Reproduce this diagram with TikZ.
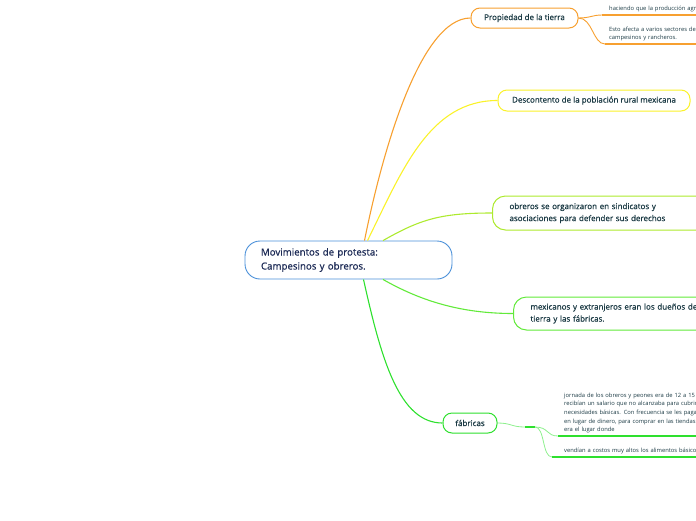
\documentclass[tikz,border=0pt]{standalone}
\usepackage{fontspec}
\setmainfont{Open Sans}
\newfontfamily\topicfont{Open Sans}[FakeBold=0.7]
\usetikzlibrary{positioning,calc}

\definecolor{ink}{HTML}{1B3A44}
\definecolor{navy}{HTML}{1C2A55}
\definecolor{cenblue}{HTML}{4A90D9}
\definecolor{orng}{HTML}{F7A030}
\definecolor{yllw}{HTML}{FAF22A}
\definecolor{lime}{HTML}{ADEA2E}
\definecolor{grn}{HTML}{62EA3A}
\definecolor{fgrn}{HTML}{2EE02E}
\definecolor{pgrn}{HTML}{8EF08E}

\begin{document}
\begin{tikzpicture}[x=1pt,y=-1pt,
  topic/.style={draw,fill=white,rounded corners=9pt,line width=1pt,text=ink,
    font=\topicfont\fontsize{8}{12}\selectfont,inner ysep=0pt},
  subtxt/.style={anchor=south west,inner ysep=2.5pt,text=ink,align=left,
    text width=160pt,font=\fontsize{5.8}{8.7}\selectfont},
  link/.style={line width=1.1pt},
  uline/.style={line width=1.8pt}]
  \useasboundingbox (0,0) rectangle (696,520);
  \clip (0,0) rectangle (696,520);
  % central topic
  \node[draw=cenblue,fill=white,rounded corners=15pt,line width=0.9pt,
    minimum height=38pt,text width=175pt,inner xsep=16pt,align=left,text=navy,
    font=\topicfont\fontsize{9.7}{14}\selectfont] (cen) at (348.5,260)
    {Movimientos de protesta:\\Campesinos y obreros.};
  % main topics
  \node[topic,draw=orng,minimum width=107pt,minimum height=20pt] (prop) at (524.5,18)
    {Propiedad de la tierra};
  \node[topic,draw=yllw,minimum width=192pt,minimum height=21pt] (desc) at (594,100.5)
    {Descontento de la población rural mexicana};
  \node[topic,draw=lime,anchor=west,minimum height=34pt,text width=200pt,
    inner xsep=17pt,align=left,rounded corners=13pt] (obr) at (492,213)
    {obreros se organizaron en sindicatos y\\asociaciones para defender sus derechos};
  \node[topic,draw=grn,anchor=west,minimum height=33pt,text width=200pt,
    inner xsep=17pt,align=left,rounded corners=13pt] (mex) at (513,313.5)
    {mexicanos y extranjeros eran los dueños de la\\tierra y las fábricas.};
  \node[topic,draw=fgrn,minimum width=54pt,minimum height=20pt] (fab) at (470,423)
    {fábricas};
  % branches from the centre
  \draw[link,orng] ([xshift=16pt]cen.north) .. controls +(18,-90) and +(-50,0) .. (prop.west);
  \draw[link,yllw] ([xshift=19pt]cen.north) .. controls +(35,-71) and +(-68,0) .. (desc.west);
  \draw[link,lime] ([xshift=34.5pt]cen.north) .. controls +(37,-21) and +(-52,0) .. (obr.west);
  \draw[link,grn] ([xshift=34.5pt]cen.south) .. controls +(37,21) and +(-53,0) .. (mex.west);
  \draw[link,fgrn] ([xshift=15pt]cen.south) .. controls +(18,81) and +(-43,0) .. (fab.west);
  % details of Propiedad de la tierra
  \node[subtxt,inner xsep=7pt] (p1) at (602,15) {haciendo que la producción agrícola};
  \node[subtxt,inner xsep=4pt] (p2) at (605,44)
    {Esto afecta a varios sectores de la\\campesinos y rancheros.};
  \draw[orng,line width=0.9pt] (prop.east) .. controls +(12,0) and +(-10,0) .. (p1.south west);
  \draw[orng,line width=0.9pt] (prop.east) .. controls +(14,0) and +(-12,0) .. (p2.south west);
  \draw[uline,orng] (p1.south west) -- (p1.south east);
  \draw[uline,orng] (p2.south west) -- (p2.south east);
  % details of fabricas
  \coordinate (fj1) at (525,427);
  \coordinate (fj2) at (535,427);
  \node[subtxt,inner xsep=6pt] (f1) at (558,436)
    {jornada de los obreros y peones era de 12 a 15 horas\\
     recibían un salario que no alcanzaba para cubrir sus\\
     necesidades básicas. Con frecuencia se les pagaba\\
     en lugar de dinero, para comprar en las tiendas de\\
     era el lugar donde};
  \node[subtxt,inner xsep=12pt] (f2) at (552,457)
    {vendían a costos muy altos los alimentos básicos};
  \draw[pgrn,line width=0.8pt] (fab.east) .. controls +(14,0) and +(-14,0) .. (fj1);
  \draw[uline,fgrn] (fj1) -- (fj2);
  \draw[pgrn,line width=0.8pt] (fj2) .. controls +(14,0) and +(-12,0) .. (f1.south west);
  \draw[pgrn,line width=0.8pt] (fj2) .. controls +(10,0) and +(-10,0) .. (f2.south west);
  \draw[uline,fgrn] (f1.south west) -- (f1.south east);
  \draw[uline,fgrn] (f2.south west) -- (f2.south east);
\end{tikzpicture}
\end{document}
